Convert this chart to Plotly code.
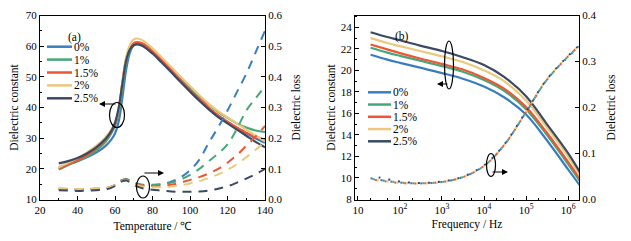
import plotly.graph_objects as go

W, H = 631, 241

labels = ["0%", "1%", "1.5%", "2%", "2.5%"]
colors = ["#3a7dbf", "#45a877", "#ee5535", "#ebc97c", "#3b4a62"]

# Panel (a): dielectric constant vs temperature
temp = [30, 35, 40, 45, 50, 55, 58, 60, 62, 64, 66, 68, 70, 72, 75, 80, 85, 90, 95, 100,
        105, 110, 115, 120, 125, 130, 135, 140]
eps_a = {
    "0%":   [20.5, 21.5, 22.5, 23.8, 25.3, 27.5, 29.5, 31.5, 35.5, 43.5, 52.5, 58.0, 60.3, 60.8, 60.3, 58.0, 55.0, 51.8, 48.5, 45.3, 42.3, 39.6, 37.2, 35.2, 33.3, 31.6, 30.0, 28.5],
    "1%":   [19.8, 21.2, 22.5, 24.0, 26.0, 28.8, 31.5, 34.0, 38.5, 46.5, 54.5, 58.8, 60.5, 61.0, 60.6, 58.5, 55.6, 52.6, 49.5, 46.5, 43.6, 41.0, 38.6, 36.6, 34.8, 33.5, 32.5, 32.0],
    "1.5%": [20.0, 21.5, 22.8, 24.5, 26.6, 29.5, 32.0, 34.5, 39.5, 48.5, 56.0, 59.5, 61.0, 61.3, 60.8, 58.3, 55.3, 52.2, 49.0, 45.8, 42.8, 40.0, 37.5, 35.4, 33.5, 31.8, 30.5, 29.5],
    "2%":   [20.5, 22.0, 23.5, 25.3, 27.5, 30.3, 32.8, 35.2, 39.8, 48.5, 56.5, 60.5, 62.2, 62.5, 61.8, 59.3, 56.3, 53.2, 50.0, 47.0, 44.0, 41.2, 38.8, 36.8, 34.8, 32.8, 30.8, 29.0],
    "2.5%": [21.8, 22.5, 23.5, 25.0, 27.0, 29.8, 32.3, 35.0, 40.0, 48.0, 55.5, 59.0, 60.3, 60.6, 60.0, 57.6, 54.6, 51.5, 48.3, 45.2, 42.2, 39.4, 36.9, 34.8, 32.8, 30.8, 28.8, 27.0],
}
loss_a = {
    "0%":   [0.035, 0.034, 0.033, 0.034, 0.035, 0.037, 0.042, 0.048, 0.057, 0.064, 0.066, 0.060, 0.054, 0.050, 0.046, 0.046, 0.050, 0.058, 0.072, 0.095, 0.130, 0.185, 0.235, 0.290, 0.350, 0.410, 0.480, 0.550],
    "1%":   [0.035, 0.034, 0.033, 0.034, 0.035, 0.037, 0.042, 0.048, 0.057, 0.064, 0.067, 0.062, 0.056, 0.052, 0.048, 0.048, 0.050, 0.055, 0.065, 0.080, 0.100, 0.125, 0.150, 0.180, 0.230, 0.290, 0.330, 0.370],
    "1.5%": [0.034, 0.033, 0.033, 0.033, 0.034, 0.036, 0.041, 0.047, 0.056, 0.063, 0.065, 0.060, 0.054, 0.050, 0.045, 0.044, 0.045, 0.048, 0.055, 0.064, 0.073, 0.085, 0.100, 0.120, 0.145, 0.175, 0.205, 0.240],
    "2%":   [0.036, 0.035, 0.034, 0.035, 0.036, 0.038, 0.042, 0.047, 0.055, 0.061, 0.063, 0.058, 0.052, 0.047, 0.042, 0.040, 0.040, 0.042, 0.046, 0.052, 0.060, 0.070, 0.082, 0.097, 0.115, 0.138, 0.162, 0.188],
    "2.5%": [0.030, 0.029, 0.028, 0.029, 0.030, 0.033, 0.038, 0.044, 0.053, 0.060, 0.062, 0.056, 0.048, 0.042, 0.036, 0.032, 0.029, 0.026, 0.025, 0.025, 0.026, 0.029, 0.035, 0.043, 0.055, 0.068, 0.083, 0.100],
}

# Panel (b): dielectric constant vs frequency
freq = [20, 50, 100, 300, 1000, 3000, 10000, 30000, 100000, 300000, 1000000, 2000000]
eps_b = {
    "0%":   [21.45, 21.0, 20.7, 20.25, 19.75, 19.25, 18.5, 17.5, 15.9, 13.6, 10.8, 9.2],
    "1%":   [22.1, 21.65, 21.35, 20.9, 20.4, 19.9, 19.1, 18.1, 16.4, 14.1, 11.3, 9.6],
    "1.5%": [22.4, 21.95, 21.6, 21.1, 20.6, 20.1, 19.3, 18.3, 16.6, 14.3, 11.5, 9.8],
    "2%":   [23.0, 22.55, 22.25, 21.8, 21.3, 20.8, 20.0, 19.0, 17.2, 14.8, 12.0, 10.1],
    "2.5%": [23.55, 23.1, 22.8, 22.3, 21.8, 21.25, 20.5, 19.4, 17.6, 15.1, 12.3, 10.4],
}
loss_b = {
    "0%":   [0.046, 0.040, 0.037, 0.035, 0.038, 0.048, 0.073, 0.118, 0.190, 0.258, 0.310, 0.335],
    "1%":   [0.045, 0.040, 0.037, 0.035, 0.038, 0.048, 0.073, 0.118, 0.190, 0.258, 0.311, 0.336],
    "1.5%": [0.044, 0.039, 0.036, 0.035, 0.038, 0.048, 0.073, 0.118, 0.190, 0.258, 0.311, 0.337],
    "2%":   [0.044, 0.039, 0.036, 0.035, 0.038, 0.048, 0.073, 0.118, 0.190, 0.259, 0.312, 0.338],
    "2.5%": [0.052, 0.044, 0.039, 0.036, 0.039, 0.049, 0.074, 0.119, 0.191, 0.259, 0.312, 0.338],
}

FONT = "Liberation Serif"
FS = 11
# staggered dot patterns so that overlapping dotted curves show every colour
dot_patterns = ["2px,8px", "0px,2px,2px,6px", "0px,4px,2px,4px", "0px,6px,2px,2px", "0px,8px,2px,0px"]

fig = go.Figure()
for lab, col in zip(labels, colors):
    fig.add_trace(go.Scatter(x=temp, y=eps_a[lab], mode="lines", name=lab, showlegend=False,
                             line=dict(color=col, width=2.2), xaxis="x", yaxis="y",
                             line_shape="spline"))
for lab, col in zip(labels, colors):
    fig.add_trace(go.Scatter(x=temp, y=loss_a[lab], mode="lines", showlegend=False,
                             line=dict(color=col, width=2, dash="9px,7px"), xaxis="x", yaxis="y2",
                             line_shape="spline"))
for lab, col in zip(labels, colors):
    fig.add_trace(go.Scatter(x=freq, y=eps_b[lab], mode="lines", name=lab, showlegend=False,
                             line=dict(color=col, width=2.2), xaxis="x2", yaxis="y3",
                             line_shape="spline"))
for lab, col, dp in zip(labels, colors, dot_patterns):
    fig.add_trace(go.Scatter(x=freq, y=loss_b[lab], mode="lines", showlegend=False,
                             line=dict(color=col, width=2, dash=dp), xaxis="x2", yaxis="y4",
                             line_shape="spline"))

ydom = [1 - 199.5 / H, 1 - 15.5 / H]
axcommon = dict(showline=True, linecolor="black", linewidth=1, ticks="inside", ticklen=4,
                tickcolor="black", showgrid=False, zeroline=False, automargin=False,
                tickfont=dict(family=FONT, size=FS, color="black"),
                title_font=dict(family=FONT, size=FS + 0.5, color="black"))

fig.update_layout(
    width=W, height=H, margin=dict(l=0, r=0, t=0, b=0, autoexpand=False),
    paper_bgcolor="white", plot_bgcolor="white",
    font=dict(family=FONT, size=FS, color="black"),
    showlegend=False,
    xaxis=dict(axcommon, domain=[40 / W, 265 / W], range=[20, 140], dtick=20, mirror=True,
               anchor="y", title=dict(text="Temperature / ℃", standoff=7),
               minor=dict(ticks="inside", ticklen=2, dtick=10, tickcolor="black")),
    yaxis=dict(axcommon, domain=ydom, range=[10, 70], dtick=10, anchor="x",
               title=dict(text="Dielectric constant", standoff=4),
               minor=dict(ticks="inside", ticklen=2, dtick=5, tickcolor="black")),
    yaxis2=dict(axcommon, overlaying="y", side="right", anchor="x", range=[0, 0.6], dtick=0.1,
                tickformat=".1f", title=dict(text="Dielectric loss", standoff=10)),
    xaxis2=dict(axcommon, domain=[355 / W, 579 / W], type="log",
                range=[0.93, 6.26], mirror=True, anchor="y3",
                tickvals=[10, 100, 1000, 10000, 100000, 1000000],
                ticktext=["10", "10<sup>2</sup>", "10<sup>3</sup>", "10<sup>4</sup>", "10<sup>5</sup>", "10<sup>6</sup>"],
                title=dict(text="Frequency / Hz", standoff=5),
                minor=dict(ticks="inside", ticklen=2, tickcolor="black")),
    yaxis3=dict(axcommon, domain=ydom, range=[8, 25.1], tickvals=[8, 10, 12, 14, 16, 18, 20, 22, 24],
                anchor="x2", title=dict(text="Dielectric constant", standoff=2),
                minor=dict(ticks="inside", ticklen=2, dtick=1, tickcolor="black")),
    yaxis4=dict(axcommon, overlaying="y3", side="right", anchor="x2", range=[0, 0.4], dtick=0.1,
                tickformat=".1f", title=dict(text="Dielectric loss", standoff=11)),
)

def P(px, py):
    return px / W, 1 - py / H

shapes = []
for cx, cy, w, h in [(117, 115, 15, 25), (143, 187, 13, 22), (449, 65, 9, 48), (491, 165, 9, 23)]:
    x0, y0 = P(cx - w / 2, cy + h / 2)
    x1, y1 = P(cx + w / 2, cy - h / 2)
    shapes.append(dict(type="circle", xref="paper", yref="paper", x0=x0, y0=y0, x1=x1, y1=y1,
                       line=dict(color="black", width=1.2)))

# manual legends (compact row spacing, as in the reference)
legend_boxes = [(47, 72, 46.7, 12.9), (368, 391, 92.3, 12.25)]
for lx0, lx1, ly0, dy in legend_boxes:
    for i, (lab, col) in enumerate(zip(labels, colors)):
        yy = ly0 + i * dy
        a0, b0 = P(lx0, yy)
        a1, _ = P(lx1, yy)
        shapes.append(dict(type="line", xref="paper", yref="paper", x0=a0, x1=a1, y0=b0, y1=b0,
                           line=dict(color=col, width=2.5)))
        tx, ty = P(lx1 + 1, yy)
        fig.add_annotation(x=tx, y=ty, xref="paper", yref="paper", text=lab, showarrow=False,
                           xanchor="left", yanchor="middle", borderpad=0, height=12,
                           font=dict(family=FONT, size=FS + 0.5, color="black"))
fig.update_layout(shapes=shapes)

arrows = [((99, 104), (117, 104)), ((164, 173), (143, 173)), ((437, 84), (449, 84)), ((508, 172), (491, 172))]
for (hx, hy), (tx, ty) in arrows:
    x, y = P(hx, hy)
    fig.add_annotation(x=x, y=y, xref="paper", yref="paper", text="", showarrow=True,
                       ax=tx - hx, ay=ty - hy, arrowhead=2, arrowsize=1, arrowwidth=1.2, arrowcolor="black")

for txt, px, py in [("(a)", 66, 29), ("(b)", 402, 28)]:
    x, y = P(px, py)
    fig.add_annotation(x=x, y=y, xref="paper", yref="paper", text=txt, showarrow=False,
                       font=dict(family=FONT, size=FS + 0.5, color="black"))

fig.write_html("out.html", config={"displayModeBar": False},
               post_script="document.body.style.margin='0';document.body.style.padding='0';")
